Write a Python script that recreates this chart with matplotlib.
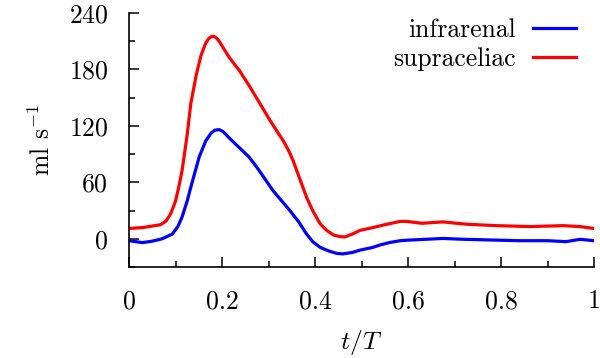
import numpy as np
import matplotlib
matplotlib.use("Agg")
import matplotlib.pyplot as plt
from matplotlib.ticker import MultipleLocator

plt.rcParams['font.family'] = 'serif'
plt.rcParams['font.serif'] = ['cmr10', 'DejaVu Serif']
plt.rcParams['mathtext.fontset'] = 'cm'
plt.rcParams['axes.formatter.use_mathtext'] = True

# values
t_supra = [0, 0.03, 0.068, 0.08, 0.09, 0.1, 0.107, 0.114, 0.125, 0.133,
           0.145, 0.155, 0.165, 0.172, 0.178, 0.183, 0.189, 0.195, 0.205, 0.215,
           0.237, 0.258, 0.28, 0.303, 0.32, 0.332, 0.343, 0.353, 0.37, 0.382,
           0.395, 0.411, 0.425, 0.44, 0.452, 0.464, 0.48, 0.497, 0.525, 0.55,
           0.583, 0.597, 0.63, 0.675, 0.726, 0.79, 0.862, 0.934, 0.97, 1.0]
q_supra = [11, 12, 15, 19, 27, 40, 55, 72, 110, 144,
           175, 195, 208, 213, 215, 215, 213, 209, 201, 193,
           179, 163, 145, 126, 113, 104, 94, 83, 60, 44,
           30, 16, 9, 4, 2.5, 2, 5, 9, 12, 15,
           18.5, 18.5, 16.5, 18, 15.5, 14, 13, 14, 13, 11]

t_infra = [0, 0.029, 0.05, 0.071, 0.093, 0.105, 0.114, 0.125, 0.133, 0.151,
           0.165, 0.176, 0.185, 0.194, 0.202, 0.212, 0.222, 0.239, 0.258, 0.275,
           0.31, 0.346, 0.365, 0.382, 0.395, 0.411, 0.43, 0.447, 0.46, 0.48,
           0.497, 0.525, 0.54, 0.56, 0.583, 0.6, 0.675, 0.72, 0.76, 0.84,
           0.9, 0.94, 0.97, 1.0]
q_infra = [-2, -4, -2.5, 0, 5, 13, 23, 40, 55, 87,
           104, 112, 115.5, 116, 114, 109, 104, 96, 87, 76,
           51, 30, 18, 5, -3, -9, -13, -15.5, -16, -14.5,
           -12, -9, -6.5, -4, -2, -1.4, 0.4, -0.5, -1, -2,
           -2, -3, -0.5, -2]

xticks = [0, 0.2, 0.4, 0.6, 0.8, 1.0]
xticklabels = ['0', '0.2', '0.4', '0.6', '0.8', '1']
yticks = [0, 60, 120, 180, 240]

fig = plt.figure(figsize=(6, 3.58), dpi=100)
ax = fig.add_axes([0.215, 0.254, 0.775, 0.710])

ax.plot(t_infra, q_infra, color='#0000ff', lw=2.3, label='infrarenal',
        solid_joinstyle='round')
ax.plot(t_supra, q_supra, color='#ff0000', lw=2.3, label='supraceliac',
        solid_joinstyle='round')

ax.set_xlim(0, 1)
ax.set_ylim(-30, 240)
ax.set_xticks(xticks)
ax.set_xticklabels(xticklabels)
ax.set_yticks(yticks)
ax.xaxis.set_minor_locator(MultipleLocator(0.1))
ax.yaxis.set_minor_locator(MultipleLocator(30))

for s in ['top', 'right']:
    ax.spines[s].set_visible(False)
ax.spines['left'].set_linewidth(1.2)
ax.spines['bottom'].set_linewidth(1.2)

ax.tick_params(which='major', direction='in', length=7, width=1.1,
               labelsize=18.5, pad=16)
ax.tick_params(which='minor', direction='in', length=4, width=1.1)
ax.tick_params(axis='y', which='major', pad=15)

ax.set_xlabel(r'$t/T$', fontsize=18.5, labelpad=11)
ax.set_ylabel(r'ml s$^{-1}$', fontsize=18.5, labelpad=10)

ax.legend(loc='upper right', frameon=False, markerfirst=False, fontsize=18.5,
          handlelength=1.7, handletextpad=0.65, labelspacing=0.2,
          borderaxespad=0.0, bbox_to_anchor=(0.984, 1.02))

fig.savefig('out.png', dpi=100)
